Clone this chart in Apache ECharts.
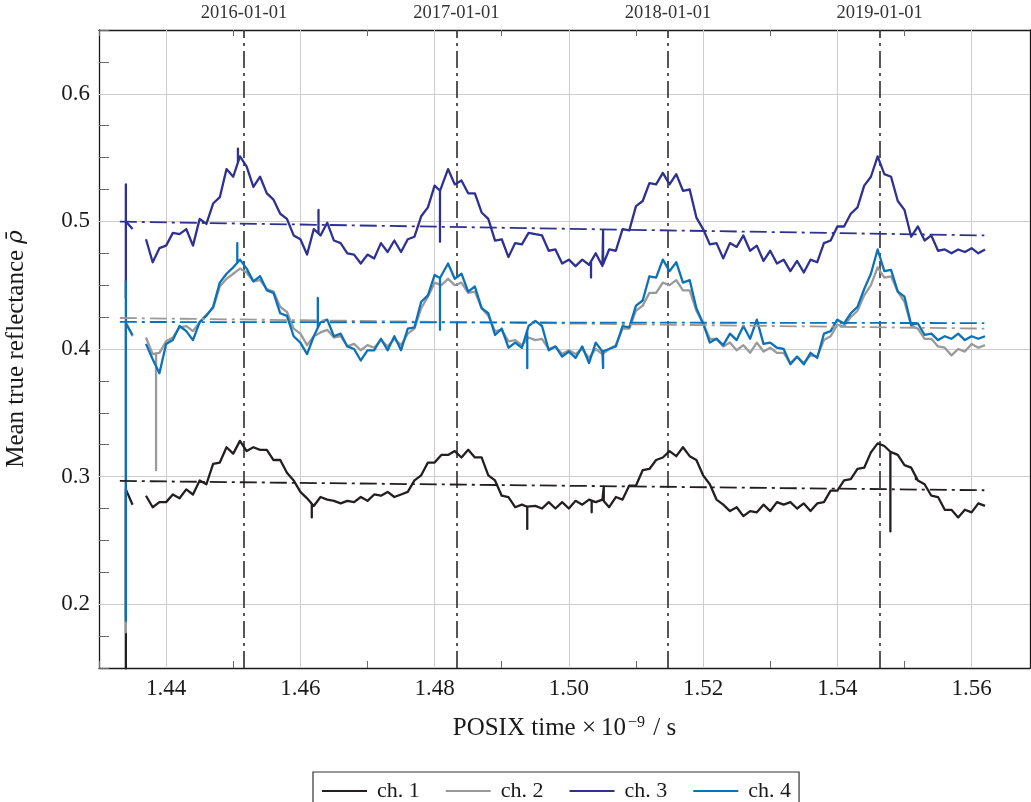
<!DOCTYPE html>
<html>
<head>
<meta charset="utf-8">
<script src="https://cdn.jsdelivr.net/npm/echarts@6/dist/echarts.min.js"></script>
<style>
  html, body { margin: 0; padding: 0; background: #fff; }
  #chart { width: 1031px; height: 802px; }
</style>
</head>
<body>
<div id="chart"></div>
<script>
// Sampling grid of the reflectance series (POSIX time x 1e-9)
const T0 = 1.434, DT = 0.001;

// Mean true reflectance per channel, one value per sample (null = no data)
const ch1 = [
  0.290, 0.278, null, 0.285, 0.276, 0.280, 0.280, 0.286, 0.283, 0.290,
  0.286, 0.297, 0.294, 0.310, 0.311, 0.323, 0.318, 0.328, 0.320, 0.323,
  0.321, 0.321, 0.313, 0.313, 0.303, 0.297, 0.288, 0.283, 0.277, 0.284,
  0.282, 0.281, 0.279, 0.281, 0.280, 0.284, 0.281, 0.286, 0.285, 0.288,
  0.284, 0.286, 0.288, 0.297, 0.301, 0.311, 0.311, 0.317, 0.317, 0.320,
  0.315, 0.321, 0.315, 0.315, 0.301, 0.297, 0.285, 0.284, 0.276, 0.278,
  0.276, 0.277, 0.275, 0.280, 0.275, 0.280, 0.275, 0.281, 0.278, 0.282,
  0.280, 0.282, 0.276, 0.284, 0.282, 0.293, 0.293, 0.305, 0.306, 0.313,
  0.315, 0.320, 0.316, 0.323, 0.316, 0.313, 0.301, 0.294, 0.282, 0.278,
  0.273, 0.276, 0.269, 0.273, 0.272, 0.278, 0.273, 0.280, 0.278, 0.280,
  0.275, 0.279, 0.273, 0.279, 0.280, 0.289, 0.289, 0.297, 0.298, 0.306,
  0.307, 0.319, 0.326, 0.324, 0.319, 0.317, 0.309, 0.307, 0.297, 0.294,
  0.285, 0.284, 0.274, 0.274, 0.268, 0.274, 0.272, 0.279, 0.277
];
const ch2 = [
  0.421, 0.410, null, 0.409, 0.396, 0.397, 0.406, 0.409, 0.417, 0.418,
  0.414, 0.421, 0.427, 0.432, 0.449, 0.455, 0.459, 0.463, 0.460, 0.453,
  0.454, 0.447, 0.445, 0.433, 0.429, 0.416, 0.412, 0.403, 0.410, 0.413,
  0.415, 0.409, 0.410, 0.402, 0.404, 0.399, 0.403, 0.401, 0.407, 0.402,
  0.408, 0.403, 0.412, 0.416, 0.432, 0.441, 0.452, 0.450, 0.455, 0.450,
  0.452, 0.444, 0.445, 0.432, 0.426, 0.414, 0.415, 0.406, 0.407, 0.403,
  0.409, 0.407, 0.408, 0.400, 0.402, 0.396, 0.399, 0.396, 0.400, 0.393,
  0.400, 0.396, 0.400, 0.403, 0.416, 0.416, 0.430, 0.434, 0.444, 0.444,
  0.452, 0.450, 0.454, 0.446, 0.446, 0.430, 0.420, 0.408, 0.408, 0.402,
  0.405, 0.399, 0.403, 0.397, 0.405, 0.398, 0.401, 0.397, 0.397, 0.389,
  0.394, 0.389, 0.395, 0.394, 0.407, 0.410, 0.419, 0.418, 0.425, 0.430,
  0.442, 0.450, 0.464, 0.456, 0.457, 0.445, 0.437, 0.418, 0.416, 0.408,
  0.408, 0.402, 0.401, 0.395, 0.400, 0.398, 0.404, 0.401, 0.403
];
const ch3 = [
  0.500, 0.494, null, 0.486, 0.468, 0.479, 0.481, 0.491, 0.490, 0.494,
  0.481, 0.502, 0.498, 0.514, 0.519, 0.541, 0.535, 0.551, 0.543, 0.527,
  0.535, 0.522, 0.517, 0.506, 0.502, 0.489, 0.486, 0.474, 0.494, 0.489,
  0.499, 0.485, 0.483, 0.475, 0.474, 0.467, 0.474, 0.471, 0.483, 0.476,
  0.485, 0.476, 0.486, 0.488, 0.504, 0.511, 0.528, 0.523, 0.541, 0.529,
  0.532, 0.522, 0.522, 0.507, 0.502, 0.485, 0.486, 0.472, 0.483, 0.482,
  0.491, 0.490, 0.489, 0.477, 0.478, 0.467, 0.470, 0.465, 0.470, 0.466,
  0.475, 0.465, 0.478, 0.477, 0.494, 0.493, 0.512, 0.516, 0.530, 0.529,
  0.538, 0.529, 0.537, 0.524, 0.525, 0.503, 0.494, 0.482, 0.483, 0.471,
  0.483, 0.480, 0.489, 0.477, 0.481, 0.469, 0.477, 0.467, 0.470, 0.461,
  0.469, 0.460, 0.470, 0.468, 0.483, 0.485, 0.496, 0.496, 0.506, 0.511,
  0.528, 0.535, 0.551, 0.537, 0.535, 0.516, 0.509, 0.488, 0.496, 0.485,
  0.489, 0.477, 0.478, 0.475, 0.478, 0.476, 0.479, 0.475, 0.478
];
const ch4 = [
  0.420, 0.411, null, 0.404, 0.392, 0.381, 0.404, 0.407, 0.418, 0.414,
  0.407, 0.421, 0.426, 0.433, 0.452, 0.459, 0.464, 0.470, 0.463, 0.453,
  0.457, 0.446, 0.444, 0.428, 0.426, 0.410, 0.405, 0.396, 0.410, 0.421,
  0.423, 0.410, 0.412, 0.402, 0.400, 0.391, 0.399, 0.399, 0.408, 0.399,
  0.410, 0.399, 0.416, 0.417, 0.437, 0.442, 0.458, 0.455, 0.467, 0.455,
  0.459, 0.445, 0.449, 0.432, 0.428, 0.411, 0.416, 0.401, 0.405, 0.401,
  0.418, 0.422, 0.418, 0.399, 0.402, 0.394, 0.398, 0.393, 0.402, 0.389,
  0.405, 0.398, 0.400, 0.402, 0.418, 0.417, 0.434, 0.438, 0.457, 0.456,
  0.470, 0.461, 0.468, 0.452, 0.454, 0.432, 0.420, 0.405, 0.408, 0.403,
  0.412, 0.407, 0.418, 0.408, 0.423, 0.404, 0.405, 0.401, 0.400, 0.388,
  0.394, 0.388, 0.397, 0.393, 0.412, 0.414, 0.423, 0.420, 0.428, 0.433,
  0.447, 0.459, 0.478, 0.461, 0.462, 0.445, 0.441, 0.419, 0.420, 0.411,
  0.412, 0.407, 0.410, 0.408, 0.412, 0.407, 0.410, 0.408, 0.410
];

// Single-sample outliers: [time, value]
const spikes1 = [[1.434, 0.12], [1.4617, 0.268], [1.4938, 0.259], [1.5034, 0.272], [1.5052, 0.292], [1.5479, 0.257], [1.5517, 0.298]];
const spikes2 = [[1.434, 0.178], [1.4385, 0.305]];
const spikes3 = [[1.434, 0.529], [1.434, 0.44], [1.4507, 0.557], [1.4627, 0.509], [1.4808, 0.484], [1.5033, 0.456], [1.5051, 0.493]];
const spikes4 = [[1.434, 0.453], [1.434, 0.187], [1.4506, 0.483], [1.4626, 0.44], [1.4808, 0.415], [1.4938, 0.385], [1.5051, 0.385]];

// Linear trend of each channel: [start], [end]
const trend1 = [[1.4331, 0.2966], [1.5619, 0.2893]];
const trend2 = [[1.4331, 0.4243], [1.5619, 0.4160]];
const trend3 = [[1.4331, 0.4998], [1.5619, 0.4890]];
const trend4 = [[1.4331, 0.4212], [1.5619, 0.4203]];

// Year boundaries marked on the top axis
const yearDates = ['2016-01-01', '2017-01-01', '2018-01-01', '2019-01-01'];

// Axis ticks and labels
const xMajor = [1.44, 1.46, 1.48, 1.50, 1.52, 1.54, 1.56];
const xMinor = [1.43, 1.44, 1.45, 1.46, 1.47, 1.48, 1.49, 1.50, 1.51, 1.52, 1.53, 1.54, 1.55, 1.56];
const yMajor = [0.2, 0.3, 0.4, 0.5, 0.6];
const yMinor = [0.15, 0.175, 0.2, 0.225, 0.25, 0.275, 0.3, 0.325, 0.35, 0.375, 0.4, 0.425, 0.45, 0.475, 0.5, 0.525, 0.55, 0.575, 0.6, 0.625, 0.65];

const names = ['ch. 1', 'ch. 2', 'ch. 3', 'ch. 4'];
const colors = ['#231f20', '#9a9a9a', '#2e3192', '#0b72b9'];

const X_MIN = 1.43, X_MAX = 1.5687, Y_MIN = 0.15, Y_MAX = 0.65;
const FONT = '"Liberation Serif", "DejaVu Serif", serif';
const INK = '#1a1a1a';
const DASH_DOT = [17, 5, 3, 5];

const yearValues = yearDates.map(d => Date.parse(d + 'T00:00:00Z') / 1e12);

// Combine the regular samples with the outlier samples, in time order
function buildSeries(values, spikes) {
  const pts = values.map((v, i) => [+(T0 + i * DT).toFixed(4), v]);
  spikes.forEach(([t, v]) => {
    const f = (t - T0) / DT;
    const i0 = Math.max(0, Math.min(values.length - 1, Math.floor(f)));
    const i1 = Math.min(values.length - 1, i0 + 1);
    const a = values[i0] != null ? values[i0] : values[i1];
    const b = values[i1] != null ? values[i1] : a;
    const w = f - i0;
    const base = a + (b - a) * Math.max(0, Math.min(1, w));
    let k = pts.findIndex(p => p[0] > t);
    if (k < 0) k = pts.length;
    pts.splice(k, 0, [t, base], [t, v], [t, base]);
  });
  return pts;
}

const chart = echarts.init(document.getElementById('chart'), null, { renderer: 'canvas' });

const dataSeries = [ch1, ch2, ch3, ch4].map((vals, k) => ({
  name: names[k],
  type: 'line',
  data: buildSeries(vals, [spikes1, spikes2, spikes3, spikes4][k]),
  symbol: 'none',
  showSymbol: false,
  connectNulls: false,
  clip: true,
  z: 3 + k,
  silent: true,
  lineStyle: { color: colors[k], width: 2.3, join: 'round' },
  itemStyle: { color: colors[k] },
  emphasis: { disabled: true }
}));

const trendSeries = [trend1, trend2, trend3, trend4].map((tr, k) => ({
  name: names[k] + ' trend',
  type: 'line',
  data: tr,
  symbol: 'none',
  z: 8,
  silent: true,
  lineStyle: { color: colors[k], width: 1.8, type: DASH_DOT },
  emphasis: { disabled: true }
}));

const gridSeries = {
  name: 'grid',
  type: 'line',
  data: [],
  silent: true,
  z: 1,
  markLine: {
    silent: true,
    symbol: 'none',
    precision: 6,
    z: 1,
    animation: false,
    label: { show: false },
    emphasis: { disabled: true },
    lineStyle: { color: '#cdcdcd', width: 1, type: 'solid' },
    data: xMajor.map(v => ({ xAxis: v })).concat(yMajor.map(v => ({ yAxis: v })))
  }
};

const yearSeries = {
  name: 'years',
  type: 'line',
  data: [],
  silent: true,
  z: 2,
  markLine: {
    silent: true,
    symbol: 'none',
    precision: 8,
    z: 2,
    animation: false,
    label: { show: false },
    emphasis: { disabled: true },
    lineStyle: { color: '#3a3a3a', width: 1.7, type: DASH_DOT },
    data: yearValues.map(v => ({ xAxis: v }))
  }
};

const tickStyle = { color: '#6a6a6a', width: 1 };

chart.setOption({
  animation: false,
  backgroundColor: '#fff',
  grid: { left: 99, right: 1, top: 30, bottom: 134, containLabel: false, outerBoundsMode: 'none' },
  legend: {
    data: names,
    left: 313,
    top: 772,
    icon: 'rect',
    itemWidth: 45,
    itemHeight: 2,
    itemGap: 26,
    padding: [8, 8, 12, 9],
    borderColor: '#333',
    borderWidth: 1.2,
    selectedMode: false,
    textStyle: { fontFamily: FONT, fontSize: 22, color: INK, padding: [0, 0, 0, 5] }
  },
  xAxis: [
    {
      type: 'value', position: 'bottom', min: X_MIN, max: X_MAX,
      axisLine: { show: true, onZero: false, lineStyle: { color: INK, width: 1.3 } },
      axisTick: { show: true, inside: true, length: 7, customValues: xMinor, lineStyle: tickStyle },
      axisLabel: {
        customValues: xMajor, formatter: v => v.toFixed(2),
        fontFamily: FONT, fontSize: 23, color: INK, margin: 9
      },
      splitLine: { show: false },
      name: 'POSIX time ×\u200910{sup|−9} / s',
      nameLocation: 'middle',
      nameGap: 47,
      nameTextStyle: {
        fontFamily: FONT, fontSize: 25, color: INK,
        rich: { sup: { fontFamily: FONT, fontSize: 16, color: INK, padding: [0, 2, 11, 2] } }
      }
    },
    {
      type: 'value', position: 'top', min: X_MIN, max: X_MAX,
      axisLine: { show: true, onZero: false, lineStyle: { color: INK, width: 1.3 } },
      axisTick: { show: true, inside: true, length: 6, customValues: xMinor, lineStyle: tickStyle },
      axisLabel: {
        customValues: yearValues,
        formatter: v => {
          let best = 0;
          yearValues.forEach((y, i) => { if (Math.abs(y - v) < Math.abs(yearValues[best] - v)) best = i; });
          return yearDates[best];
        },
        fontFamily: FONT, fontSize: 18.5, color: '#333', margin: 7
      },
      splitLine: { show: false }
    }
  ],
  yAxis: [
    {
      type: 'value', position: 'left', min: Y_MIN, max: Y_MAX,
      axisLine: { show: true, onZero: false, lineStyle: { color: INK, width: 1.3 } },
      axisTick: { show: true, inside: true, length: 10, customValues: yMinor, lineStyle: tickStyle },
      axisLabel: {
        customValues: yMajor, formatter: v => v.toFixed(1),
        fontFamily: FONT, fontSize: 23, color: INK, margin: 9
      },
      splitLine: { show: false },
      name: 'Mean true reflectance {it|ρ\u0304}',
      nameLocation: 'middle',
      nameGap: 70,
      nameTextStyle: {
        fontFamily: FONT, fontSize: 25, color: INK,
        rich: { it: { fontFamily: '"DejaVu Serif", serif', fontSize: 23, fontStyle: 'italic', color: INK } }
      }
    },
    {
      type: 'value', position: 'right', min: Y_MIN, max: Y_MAX,
      axisLine: { show: true, onZero: false, lineStyle: { color: INK, width: 1.3 } },
      axisTick: { show: false },
      axisLabel: { show: false },
      splitLine: { show: false }
    }
  ],
  series: [gridSeries, yearSeries].concat(dataSeries, trendSeries)
});
</script>
</body>
</html>
